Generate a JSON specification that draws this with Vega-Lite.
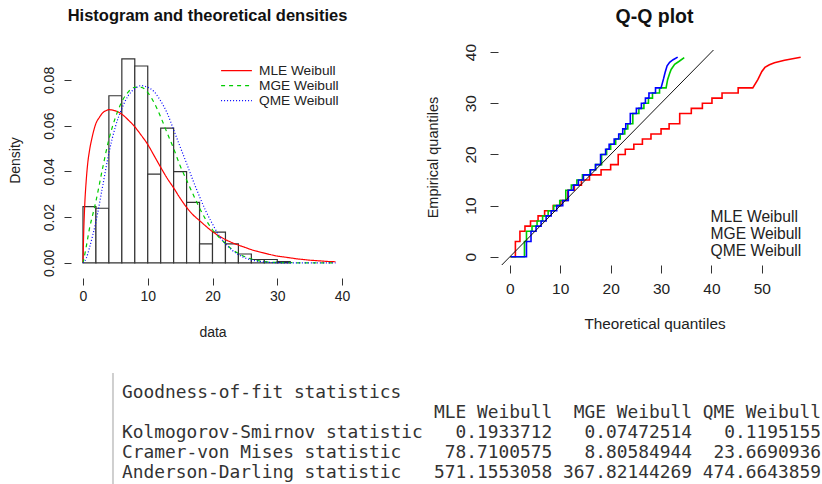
{
  "$schema": "https://vega.github.io/schema/vega-lite/v6.json",
  "background": "white",
  "padding": {"left": 8, "top": 7, "right": 0, "bottom": 0},
  "spacing": 33,
  "resolve": {"scale": {"color": "independent", "strokeDash": "independent"}, "legend": {"color": "independent", "strokeDash": "independent"}},
  "config": {
    "font": "Liberation Sans",
    "view": {"stroke": null},
    "axis": {"grid": false, "domain": false, "tickColor": "#333", "labelColor": "#222", "titleColor": "#222", "titleFontWeight": "normal", "labelFont": "Liberation Sans", "titleFont": "Liberation Sans", "labelOverlap": false, "labelFlush": false},
    "title": {"color": "#111", "fontWeight": "bold", "font": "Liberation Sans"}
  },
  "datasets": {
    "hist": [
      {"start": 0, "end": 2, "density": 0.0246},
      {"start": 2, "end": 4, "density": 0.0239},
      {"start": 4, "end": 6, "density": 0.0731},
      {"start": 6, "end": 8, "density": 0.0892},
      {"start": 8, "end": 10, "density": 0.0861},
      {"start": 10, "end": 12, "density": 0.0388},
      {"start": 12, "end": 14, "density": 0.0589},
      {"start": 14, "end": 16, "density": 0.0399},
      {"start": 16, "end": 18, "density": 0.0265},
      {"start": 18, "end": 20, "density": 0.0083},
      {"start": 20, "end": 22, "density": 0.0135},
      {"start": 22, "end": 24, "density": 0.0083},
      {"start": 24, "end": 26, "density": 0.0039},
      {"start": 26, "end": 28, "density": 0.0015},
      {"start": 28, "end": 30, "density": 0.0015},
      {"start": 30, "end": 32, "density": 0.0006}
    ],
    "dens": [
      {"fit": "MLE Weibull", "x": 0, "density": 0},
      {"fit": "MLE Weibull", "x": 0.1, "density": 0.012},
      {"fit": "MLE Weibull", "x": 0.25, "density": 0.024},
      {"fit": "MLE Weibull", "x": 0.5, "density": 0.036},
      {"fit": "MLE Weibull", "x": 0.75, "density": 0.044},
      {"fit": "MLE Weibull", "x": 1, "density": 0.049},
      {"fit": "MLE Weibull", "x": 1.5, "density": 0.056},
      {"fit": "MLE Weibull", "x": 2, "density": 0.061},
      {"fit": "MLE Weibull", "x": 2.5, "density": 0.0635},
      {"fit": "MLE Weibull", "x": 3, "density": 0.0655},
      {"fit": "MLE Weibull", "x": 3.5, "density": 0.0665},
      {"fit": "MLE Weibull", "x": 4, "density": 0.067},
      {"fit": "MLE Weibull", "x": 5, "density": 0.0665},
      {"fit": "MLE Weibull", "x": 6, "density": 0.065},
      {"fit": "MLE Weibull", "x": 7, "density": 0.0625},
      {"fit": "MLE Weibull", "x": 8, "density": 0.0595},
      {"fit": "MLE Weibull", "x": 9, "density": 0.0558},
      {"fit": "MLE Weibull", "x": 10, "density": 0.0518},
      {"fit": "MLE Weibull", "x": 11, "density": 0.0468},
      {"fit": "MLE Weibull", "x": 12, "density": 0.0418},
      {"fit": "MLE Weibull", "x": 13, "density": 0.037},
      {"fit": "MLE Weibull", "x": 14, "density": 0.0328},
      {"fit": "MLE Weibull", "x": 15, "density": 0.0283},
      {"fit": "MLE Weibull", "x": 16, "density": 0.0243},
      {"fit": "MLE Weibull", "x": 17, "density": 0.021},
      {"fit": "MLE Weibull", "x": 18, "density": 0.0185},
      {"fit": "MLE Weibull", "x": 19, "density": 0.016},
      {"fit": "MLE Weibull", "x": 20, "density": 0.0137},
      {"fit": "MLE Weibull", "x": 21, "density": 0.0118},
      {"fit": "MLE Weibull", "x": 22, "density": 0.0102},
      {"fit": "MLE Weibull", "x": 23, "density": 0.0089},
      {"fit": "MLE Weibull", "x": 24, "density": 0.0078},
      {"fit": "MLE Weibull", "x": 25, "density": 0.0068},
      {"fit": "MLE Weibull", "x": 26, "density": 0.0058},
      {"fit": "MLE Weibull", "x": 27, "density": 0.005},
      {"fit": "MLE Weibull", "x": 28, "density": 0.0043},
      {"fit": "MLE Weibull", "x": 29, "density": 0.0036},
      {"fit": "MLE Weibull", "x": 30, "density": 0.003},
      {"fit": "MLE Weibull", "x": 31, "density": 0.0026},
      {"fit": "MLE Weibull", "x": 32, "density": 0.0022},
      {"fit": "MLE Weibull", "x": 33, "density": 0.0018},
      {"fit": "MLE Weibull", "x": 34, "density": 0.0015},
      {"fit": "MLE Weibull", "x": 35, "density": 0.0012},
      {"fit": "MLE Weibull", "x": 36, "density": 0.001},
      {"fit": "MLE Weibull", "x": 37, "density": 0.0008},
      {"fit": "MLE Weibull", "x": 38, "density": 0.0006},
      {"fit": "MLE Weibull", "x": 39, "density": 0.0005},
      {"fit": "MGE Weibull", "x": 0, "density": 0},
      {"fit": "MGE Weibull", "x": 0.5, "density": 0.007},
      {"fit": "MGE Weibull", "x": 1, "density": 0.015},
      {"fit": "MGE Weibull", "x": 1.5, "density": 0.021},
      {"fit": "MGE Weibull", "x": 2, "density": 0.027},
      {"fit": "MGE Weibull", "x": 3, "density": 0.041},
      {"fit": "MGE Weibull", "x": 4, "density": 0.054},
      {"fit": "MGE Weibull", "x": 5, "density": 0.0635},
      {"fit": "MGE Weibull", "x": 6, "density": 0.0705},
      {"fit": "MGE Weibull", "x": 7, "density": 0.0748},
      {"fit": "MGE Weibull", "x": 8, "density": 0.0768},
      {"fit": "MGE Weibull", "x": 9, "density": 0.0768},
      {"fit": "MGE Weibull", "x": 10, "density": 0.0745},
      {"fit": "MGE Weibull", "x": 11, "density": 0.07},
      {"fit": "MGE Weibull", "x": 12, "density": 0.0638},
      {"fit": "MGE Weibull", "x": 13, "density": 0.0568},
      {"fit": "MGE Weibull", "x": 14, "density": 0.05},
      {"fit": "MGE Weibull", "x": 15, "density": 0.0425},
      {"fit": "MGE Weibull", "x": 16, "density": 0.0362},
      {"fit": "MGE Weibull", "x": 17, "density": 0.03},
      {"fit": "MGE Weibull", "x": 18, "density": 0.024},
      {"fit": "MGE Weibull", "x": 19, "density": 0.0188},
      {"fit": "MGE Weibull", "x": 20, "density": 0.0145},
      {"fit": "MGE Weibull", "x": 21, "density": 0.0112},
      {"fit": "MGE Weibull", "x": 22, "density": 0.0085},
      {"fit": "MGE Weibull", "x": 23, "density": 0.006},
      {"fit": "MGE Weibull", "x": 24, "density": 0.0041},
      {"fit": "MGE Weibull", "x": 25, "density": 0.0027},
      {"fit": "MGE Weibull", "x": 26, "density": 0.0017},
      {"fit": "MGE Weibull", "x": 27, "density": 0.001},
      {"fit": "MGE Weibull", "x": 28, "density": 0.0006},
      {"fit": "MGE Weibull", "x": 29, "density": 0.0003},
      {"fit": "MGE Weibull", "x": 30, "density": 0.0002},
      {"fit": "MGE Weibull", "x": 32, "density": 0.0001},
      {"fit": "MGE Weibull", "x": 35, "density": 0},
      {"fit": "MGE Weibull", "x": 39, "density": 0},
      {"fit": "QME Weibull", "x": 0, "density": 0},
      {"fit": "QME Weibull", "x": 0.5, "density": 0.002},
      {"fit": "QME Weibull", "x": 1, "density": 0.0066},
      {"fit": "QME Weibull", "x": 1.5, "density": 0.012},
      {"fit": "QME Weibull", "x": 2, "density": 0.018},
      {"fit": "QME Weibull", "x": 3, "density": 0.033},
      {"fit": "QME Weibull", "x": 4, "density": 0.048},
      {"fit": "QME Weibull", "x": 5, "density": 0.0595},
      {"fit": "QME Weibull", "x": 6, "density": 0.0675},
      {"fit": "QME Weibull", "x": 7, "density": 0.0732},
      {"fit": "QME Weibull", "x": 8, "density": 0.0762},
      {"fit": "QME Weibull", "x": 9, "density": 0.0775},
      {"fit": "QME Weibull", "x": 10, "density": 0.0768},
      {"fit": "QME Weibull", "x": 11, "density": 0.0748},
      {"fit": "QME Weibull", "x": 12, "density": 0.0708},
      {"fit": "QME Weibull", "x": 13, "density": 0.0655},
      {"fit": "QME Weibull", "x": 14, "density": 0.0582},
      {"fit": "QME Weibull", "x": 15, "density": 0.0508},
      {"fit": "QME Weibull", "x": 16, "density": 0.0435},
      {"fit": "QME Weibull", "x": 17, "density": 0.036},
      {"fit": "QME Weibull", "x": 18, "density": 0.029},
      {"fit": "QME Weibull", "x": 19, "density": 0.0225},
      {"fit": "QME Weibull", "x": 20, "density": 0.017},
      {"fit": "QME Weibull", "x": 21, "density": 0.012},
      {"fit": "QME Weibull", "x": 22, "density": 0.0083},
      {"fit": "QME Weibull", "x": 23, "density": 0.0056},
      {"fit": "QME Weibull", "x": 24, "density": 0.0036},
      {"fit": "QME Weibull", "x": 25, "density": 0.0022},
      {"fit": "QME Weibull", "x": 26, "density": 0.0013},
      {"fit": "QME Weibull", "x": 27, "density": 0.0007},
      {"fit": "QME Weibull", "x": 28, "density": 0.0004},
      {"fit": "QME Weibull", "x": 29, "density": 0.0002},
      {"fit": "QME Weibull", "x": 30, "density": 0.0001},
      {"fit": "QME Weibull", "x": 32, "density": 0},
      {"fit": "QME Weibull", "x": 35, "density": 0},
      {"fit": "QME Weibull", "x": 39, "density": 0}
    ],
    "qq": [
      {"fit": "MLE Weibull", "x": 0.05, "y": 0}, {"fit": "MLE Weibull", "x": 1.1, "y": 0},
      {"fit": "MLE Weibull", "x": 1.1, "y": 3}, {"fit": "MLE Weibull", "x": 2.0, "y": 3},
      {"fit": "MLE Weibull", "x": 2.0, "y": 5}, {"fit": "MLE Weibull", "x": 3.0, "y": 5},
      {"fit": "MLE Weibull", "x": 3.0, "y": 6}, {"fit": "MLE Weibull", "x": 4.1, "y": 6},
      {"fit": "MLE Weibull", "x": 4.1, "y": 7}, {"fit": "MLE Weibull", "x": 5.6, "y": 7},
      {"fit": "MLE Weibull", "x": 5.6, "y": 8}, {"fit": "MLE Weibull", "x": 6.9, "y": 8},
      {"fit": "MLE Weibull", "x": 6.9, "y": 9}, {"fit": "MLE Weibull", "x": 8.6, "y": 9},
      {"fit": "MLE Weibull", "x": 8.6, "y": 10}, {"fit": "MLE Weibull", "x": 10.1, "y": 10},
      {"fit": "MLE Weibull", "x": 10.1, "y": 11}, {"fit": "MLE Weibull", "x": 11.5, "y": 11},
      {"fit": "MLE Weibull", "x": 11.5, "y": 13}, {"fit": "MLE Weibull", "x": 12.8, "y": 13},
      {"fit": "MLE Weibull", "x": 12.8, "y": 14}, {"fit": "MLE Weibull", "x": 14.2, "y": 14},
      {"fit": "MLE Weibull", "x": 14.2, "y": 15}, {"fit": "MLE Weibull", "x": 15.8, "y": 15},
      {"fit": "MLE Weibull", "x": 15.8, "y": 16}, {"fit": "MLE Weibull", "x": 18.1, "y": 16},
      {"fit": "MLE Weibull", "x": 18.1, "y": 17}, {"fit": "MLE Weibull", "x": 20.0, "y": 17},
      {"fit": "MLE Weibull", "x": 20.0, "y": 18}, {"fit": "MLE Weibull", "x": 21.5, "y": 18},
      {"fit": "MLE Weibull", "x": 21.5, "y": 20}, {"fit": "MLE Weibull", "x": 22.9, "y": 20},
      {"fit": "MLE Weibull", "x": 22.9, "y": 21}, {"fit": "MLE Weibull", "x": 24.6, "y": 21},
      {"fit": "MLE Weibull", "x": 24.6, "y": 22}, {"fit": "MLE Weibull", "x": 26.3, "y": 22},
      {"fit": "MLE Weibull", "x": 26.3, "y": 23}, {"fit": "MLE Weibull", "x": 28.0, "y": 23},
      {"fit": "MLE Weibull", "x": 28.0, "y": 24}, {"fit": "MLE Weibull", "x": 30.0, "y": 24},
      {"fit": "MLE Weibull", "x": 30.0, "y": 25}, {"fit": "MLE Weibull", "x": 31.6, "y": 25},
      {"fit": "MLE Weibull", "x": 31.6, "y": 26}, {"fit": "MLE Weibull", "x": 33.7, "y": 26},
      {"fit": "MLE Weibull", "x": 33.7, "y": 28}, {"fit": "MLE Weibull", "x": 36.0, "y": 28},
      {"fit": "MLE Weibull", "x": 36.0, "y": 29}, {"fit": "MLE Weibull", "x": 38.2, "y": 29},
      {"fit": "MLE Weibull", "x": 38.2, "y": 30}, {"fit": "MLE Weibull", "x": 40.1, "y": 30},
      {"fit": "MLE Weibull", "x": 40.1, "y": 31}, {"fit": "MLE Weibull", "x": 42.1, "y": 31},
      {"fit": "MLE Weibull", "x": 42.1, "y": 32}, {"fit": "MLE Weibull", "x": 45.3, "y": 32},
      {"fit": "MLE Weibull", "x": 45.3, "y": 33}, {"fit": "MLE Weibull", "x": 48.2, "y": 33},
      {"fit": "MLE Weibull", "x": 49.2, "y": 34.6}, {"fit": "MLE Weibull", "x": 50.0, "y": 36.2},
      {"fit": "MLE Weibull", "x": 50.6, "y": 37.0}, {"fit": "MLE Weibull", "x": 51.5, "y": 37.5},
      {"fit": "MLE Weibull", "x": 52.5, "y": 37.9}, {"fit": "MLE Weibull", "x": 54.5, "y": 38.4},
      {"fit": "MLE Weibull", "x": 57.7, "y": 39.0},
      {"fit": "MGE Weibull", "x": 0.1, "y": 0}, {"fit": "MGE Weibull", "x": 2.9, "y": 0},
      {"fit": "MGE Weibull", "x": 2.9, "y": 3}, {"fit": "MGE Weibull", "x": 3.3, "y": 3},
      {"fit": "MGE Weibull", "x": 3.3, "y": 5}, {"fit": "MGE Weibull", "x": 4.4, "y": 5},
      {"fit": "MGE Weibull", "x": 4.4, "y": 6}, {"fit": "MGE Weibull", "x": 5.4, "y": 6},
      {"fit": "MGE Weibull", "x": 5.4, "y": 7}, {"fit": "MGE Weibull", "x": 6.5, "y": 7},
      {"fit": "MGE Weibull", "x": 6.5, "y": 8}, {"fit": "MGE Weibull", "x": 7.6, "y": 8},
      {"fit": "MGE Weibull", "x": 7.6, "y": 9}, {"fit": "MGE Weibull", "x": 8.7, "y": 9},
      {"fit": "MGE Weibull", "x": 8.7, "y": 10}, {"fit": "MGE Weibull", "x": 9.9, "y": 10},
      {"fit": "MGE Weibull", "x": 9.9, "y": 11}, {"fit": "MGE Weibull", "x": 11.1, "y": 11},
      {"fit": "MGE Weibull", "x": 11.1, "y": 13}, {"fit": "MGE Weibull", "x": 12.2, "y": 13},
      {"fit": "MGE Weibull", "x": 12.2, "y": 14}, {"fit": "MGE Weibull", "x": 13.3, "y": 14},
      {"fit": "MGE Weibull", "x": 13.3, "y": 15}, {"fit": "MGE Weibull", "x": 14.4, "y": 15},
      {"fit": "MGE Weibull", "x": 14.4, "y": 16}, {"fit": "MGE Weibull", "x": 15.9, "y": 16},
      {"fit": "MGE Weibull", "x": 15.9, "y": 17}, {"fit": "MGE Weibull", "x": 17.0, "y": 17},
      {"fit": "MGE Weibull", "x": 17.0, "y": 18}, {"fit": "MGE Weibull", "x": 18.2, "y": 18},
      {"fit": "MGE Weibull", "x": 18.2, "y": 20}, {"fit": "MGE Weibull", "x": 19.2, "y": 20},
      {"fit": "MGE Weibull", "x": 19.2, "y": 21}, {"fit": "MGE Weibull", "x": 20.0, "y": 21},
      {"fit": "MGE Weibull", "x": 20.0, "y": 22}, {"fit": "MGE Weibull", "x": 21.0, "y": 22},
      {"fit": "MGE Weibull", "x": 21.0, "y": 23}, {"fit": "MGE Weibull", "x": 21.9, "y": 23},
      {"fit": "MGE Weibull", "x": 21.9, "y": 24}, {"fit": "MGE Weibull", "x": 22.8, "y": 24},
      {"fit": "MGE Weibull", "x": 22.8, "y": 25}, {"fit": "MGE Weibull", "x": 23.4, "y": 25},
      {"fit": "MGE Weibull", "x": 23.4, "y": 26}, {"fit": "MGE Weibull", "x": 24.4, "y": 26},
      {"fit": "MGE Weibull", "x": 24.4, "y": 28}, {"fit": "MGE Weibull", "x": 25.6, "y": 28},
      {"fit": "MGE Weibull", "x": 25.6, "y": 29}, {"fit": "MGE Weibull", "x": 26.6, "y": 29},
      {"fit": "MGE Weibull", "x": 26.6, "y": 30}, {"fit": "MGE Weibull", "x": 27.5, "y": 30},
      {"fit": "MGE Weibull", "x": 27.5, "y": 31}, {"fit": "MGE Weibull", "x": 28.3, "y": 31},
      {"fit": "MGE Weibull", "x": 28.3, "y": 32}, {"fit": "MGE Weibull", "x": 29.7, "y": 32},
      {"fit": "MGE Weibull", "x": 29.7, "y": 33}, {"fit": "MGE Weibull", "x": 31.0, "y": 33},
      {"fit": "MGE Weibull", "x": 31.3, "y": 34.6}, {"fit": "MGE Weibull", "x": 31.7, "y": 35.8},
      {"fit": "MGE Weibull", "x": 32.0, "y": 36.6}, {"fit": "MGE Weibull", "x": 32.7, "y": 37.6},
      {"fit": "MGE Weibull", "x": 33.6, "y": 38.2}, {"fit": "MGE Weibull", "x": 34.6, "y": 38.9},
      {"fit": "QME Weibull", "x": 0.2, "y": 0}, {"fit": "QME Weibull", "x": 3.3, "y": 0},
      {"fit": "QME Weibull", "x": 3.3, "y": 3}, {"fit": "QME Weibull", "x": 4.2, "y": 3},
      {"fit": "QME Weibull", "x": 4.2, "y": 5}, {"fit": "QME Weibull", "x": 5.2, "y": 5},
      {"fit": "QME Weibull", "x": 5.2, "y": 6}, {"fit": "QME Weibull", "x": 6.2, "y": 6},
      {"fit": "QME Weibull", "x": 6.2, "y": 7}, {"fit": "QME Weibull", "x": 7.2, "y": 7},
      {"fit": "QME Weibull", "x": 7.2, "y": 8}, {"fit": "QME Weibull", "x": 8.2, "y": 8},
      {"fit": "QME Weibull", "x": 8.2, "y": 9}, {"fit": "QME Weibull", "x": 9.3, "y": 9},
      {"fit": "QME Weibull", "x": 9.3, "y": 10}, {"fit": "QME Weibull", "x": 10.5, "y": 10},
      {"fit": "QME Weibull", "x": 10.5, "y": 11}, {"fit": "QME Weibull", "x": 11.6, "y": 11},
      {"fit": "QME Weibull", "x": 11.6, "y": 13}, {"fit": "QME Weibull", "x": 12.6, "y": 13},
      {"fit": "QME Weibull", "x": 12.6, "y": 14}, {"fit": "QME Weibull", "x": 13.6, "y": 14},
      {"fit": "QME Weibull", "x": 13.6, "y": 15}, {"fit": "QME Weibull", "x": 14.6, "y": 15},
      {"fit": "QME Weibull", "x": 14.6, "y": 16}, {"fit": "QME Weibull", "x": 16.0, "y": 16},
      {"fit": "QME Weibull", "x": 16.0, "y": 17}, {"fit": "QME Weibull", "x": 17.0, "y": 17},
      {"fit": "QME Weibull", "x": 17.0, "y": 18}, {"fit": "QME Weibull", "x": 18.0, "y": 18},
      {"fit": "QME Weibull", "x": 18.0, "y": 20}, {"fit": "QME Weibull", "x": 19.0, "y": 20},
      {"fit": "QME Weibull", "x": 19.0, "y": 21}, {"fit": "QME Weibull", "x": 19.7, "y": 21},
      {"fit": "QME Weibull", "x": 19.7, "y": 22}, {"fit": "QME Weibull", "x": 20.7, "y": 22},
      {"fit": "QME Weibull", "x": 20.7, "y": 23}, {"fit": "QME Weibull", "x": 21.6, "y": 23},
      {"fit": "QME Weibull", "x": 21.6, "y": 24}, {"fit": "QME Weibull", "x": 22.4, "y": 24},
      {"fit": "QME Weibull", "x": 22.4, "y": 25}, {"fit": "QME Weibull", "x": 23.0, "y": 25},
      {"fit": "QME Weibull", "x": 23.0, "y": 26}, {"fit": "QME Weibull", "x": 23.9, "y": 26},
      {"fit": "QME Weibull", "x": 23.9, "y": 28}, {"fit": "QME Weibull", "x": 25.1, "y": 28},
      {"fit": "QME Weibull", "x": 25.1, "y": 29}, {"fit": "QME Weibull", "x": 26.1, "y": 29},
      {"fit": "QME Weibull", "x": 26.1, "y": 30}, {"fit": "QME Weibull", "x": 26.9, "y": 30},
      {"fit": "QME Weibull", "x": 26.9, "y": 31}, {"fit": "QME Weibull", "x": 27.6, "y": 31},
      {"fit": "QME Weibull", "x": 27.6, "y": 32}, {"fit": "QME Weibull", "x": 28.9, "y": 32},
      {"fit": "QME Weibull", "x": 28.9, "y": 33}, {"fit": "QME Weibull", "x": 30.0, "y": 33},
      {"fit": "QME Weibull", "x": 30.5, "y": 34.8}, {"fit": "QME Weibull", "x": 30.8, "y": 36.0},
      {"fit": "QME Weibull", "x": 31.2, "y": 37.3}, {"fit": "QME Weibull", "x": 31.7, "y": 38.0},
      {"fit": "QME Weibull", "x": 32.4, "y": 38.5}, {"fit": "QME Weibull", "x": 33.3, "y": 39.0}
    ],
    "identity": [
      {"x": -1.6, "y": -1.6},
      {"x": 40.4, "y": 40.4}
    ],
    "gof": [
      {"row": "Kolmogorov-Smirnov statistic", "fit": "MLE Weibull", "value": "0.1933712"},
      {"row": "Kolmogorov-Smirnov statistic", "fit": "MGE Weibull", "value": "0.07472514"},
      {"row": "Kolmogorov-Smirnov statistic", "fit": "QME Weibull", "value": "0.1195155"},
      {"row": "Cramer-von Mises statistic", "fit": "MLE Weibull", "value": "78.7100575"},
      {"row": "Cramer-von Mises statistic", "fit": "MGE Weibull", "value": "8.80584944"},
      {"row": "Cramer-von Mises statistic", "fit": "QME Weibull", "value": "23.6690936"},
      {"row": "Anderson-Darling statistic", "fit": "MLE Weibull", "value": "571.1553058"},
      {"row": "Anderson-Darling statistic", "fit": "MGE Weibull", "value": "367.82144269"},
      {"row": "Anderson-Darling statistic", "fit": "QME Weibull", "value": "474.6643859"}
    ]
  },
  "vconcat": [
    {
      "bounds": "flush",
      "spacing": 144,
      "resolve": {"scale": {"color": "independent", "strokeDash": "independent"}, "legend": {"color": "independent", "strokeDash": "independent"}},
      "hconcat": [
        {
          "width": 283,
          "height": 228,
          "title": {"text": "Histogram and theoretical densities", "fontSize": 16.5, "frame": "group", "anchor": "middle", "baseline": "alphabetic", "offset": 12.1, "dx": -5},
          "layer": [
            {
              "data": {"name": "hist"},
              "mark": {"type": "rect", "fill": "white", "stroke": "#333", "strokeWidth": 1.2},
              "encoding": {
                "x": {"field": "start", "type": "quantitative", "scale": {"domain": [-1.85, 41.85], "nice": false, "zero": false},
                  "axis": {"title": "data", "values": [0, 10, 20, 30, 40], "tickSize": 7, "labelPadding": 15, "labelBaseline": "alphabetic", "labelFontSize": 14, "titleFontSize": 14, "titleY": 58, "titleBaseline": "alphabetic"}},
                "x2": {"field": "end"},
                "y": {"field": "density", "type": "quantitative", "scale": {"domain": [-0.0066, 0.0931], "nice": false, "zero": false},
                  "axis": {"title": "Density", "values": [0, 0.02, 0.04, 0.06, 0.08], "format": ".2f", "tickSize": 7, "labelAngle": 270, "labelAlign": "center", "labelBaseline": "alphabetic", "labelPadding": 10.5, "labelFontSize": 14, "titleFontSize": 14, "titleAngle": 270, "titleBaseline": "alphabetic", "titleAlign": "center", "titleX": -51.7, "titleY": 110}},
                "y2": {"datum": 0}
              }
            },
            {
              "mark": {"type": "rule", "color": "#333", "strokeWidth": 1},
              "encoding": {"x": {"datum": 0}, "x2": {"datum": 40}, "y": {"datum": -0.0066}}
            },
            {
              "mark": {"type": "rule", "color": "#333", "strokeWidth": 1},
              "encoding": {"y": {"datum": 0}, "y2": {"datum": 0.08}, "x": {"datum": -1.85}}
            },
            {
              "data": {"name": "dens"},
              "mark": {"type": "line", "strokeWidth": 1.2, "interpolate": "monotone"},
              "encoding": {
                "x": {"field": "x", "type": "quantitative"},
                "y": {"field": "density", "type": "quantitative"},
                "color": {"field": "fit", "type": "nominal", "scale": {"domain": ["MLE Weibull", "MGE Weibull", "QME Weibull"], "range": ["#ff0000", "#00cc00", "#0000ff"]},
                  "legend": {"orient": "none", "legendX": 149, "legendY": 13.1, "title": null, "symbolType": "stroke", "symbolSize": 950, "symbolStrokeWidth": 1.2, "labelFontSize": 13.7, "labelColor": "#222", "labelOffset": 6, "rowPadding": 0, "clipHeight": 15, "padding": 0}},
                "strokeDash": {"field": "fit", "type": "nominal", "scale": {"domain": ["MLE Weibull", "MGE Weibull", "QME Weibull"], "range": [[1, 0], [4, 4], [1, 2]]},
                  "legend": {"orient": "none", "legendX": 149, "legendY": 13.1, "title": null, "symbolType": "stroke", "symbolSize": 950, "symbolStrokeWidth": 1.2, "labelFontSize": 13.7, "labelColor": "#222", "labelOffset": 6, "rowPadding": 0, "clipHeight": 15, "padding": 0}}
              }
            }
          ]
        },
        {
          "width": 313,
          "height": 215,
          "title": {"text": "Q-Q plot", "fontSize": 19.5, "frame": "group", "anchor": "middle", "baseline": "alphabetic", "offset": 0.5},
          "layer": [
            {
              "data": {"name": "qq"},
              "mark": {"type": "line", "strokeWidth": 1.6},
              "encoding": {
                "x": {"field": "x", "type": "quantitative", "scale": {"domain": [-2.35, 59.75], "nice": false, "zero": false},
                  "axis": {"title": "Theoretical quantiles", "values": [0, 10, 20, 30, 40, 50], "tickSize": 8, "labelPadding": 20.6, "labelBaseline": "alphabetic", "labelFontSize": 15.5, "titleFontSize": 15.3, "titleY": 63, "titleBaseline": "alphabetic"}},
                "y": {"field": "y", "type": "quantitative", "scale": {"domain": [-1.6, 40.4], "nice": false, "zero": false},
                  "axis": {"title": "Empirical quantiles", "values": [0, 10, 20, 30, 40], "tickSize": 8, "labelAngle": 270, "labelAlign": "center", "labelBaseline": "alphabetic", "labelPadding": 14.5, "labelFontSize": 15.5, "titleFontSize": 14.5, "titleAngle": 270, "titleBaseline": "alphabetic", "titleAlign": "center", "titleX": -60.8, "titleY": 107}},
                "order": [{"field": "y", "type": "quantitative"}, {"field": "x", "type": "quantitative"}],
                "color": {"field": "fit", "type": "nominal", "scale": {"domain": ["MLE Weibull", "MGE Weibull", "QME Weibull"], "range": ["#ff0000", "#00cc00", "#0000ff"]},
                  "legend": {"orient": "none", "legendX": 197, "legendY": 158.6, "title": null, "symbolType": "stroke", "symbolSize": 4, "symbolOpacity": 0, "symbolStrokeWidth": 0, "labelFontSize": 15.6, "labelColor": "#222", "labelOffset": 0, "rowPadding": 0, "clipHeight": 16.7, "padding": 0}}
              }
            },
            {
              "data": {"name": "identity"},
              "mark": {"type": "line", "color": "#111", "strokeWidth": 1},
              "encoding": {"x": {"field": "x", "type": "quantitative"}, "y": {"field": "y", "type": "quantitative"}}
            },
            {
              "mark": {"type": "rect", "fill": null, "fillOpacity": 0, "stroke": "#222", "strokeWidth": 1.2},
              "encoding": {"x": {"datum": -2.35}, "x2": {"datum": 59.75}, "y": {"datum": -1.6}, "y2": {"datum": 40.4}}
            }
          ]
        }
      ]
    },
    {
      "width": 752,
      "height": 112,
      "data": {"name": "gof"},
      "layer": [
        {
          "transform": [{"filter": {"and": [{"field": "row", "equal": "Kolmogorov-Smirnov statistic"}, {"field": "fit", "equal": "MLE Weibull"}]}}],
          "mark": {"type": "rule", "color": "#cfcfcf", "strokeWidth": 2},
          "encoding": {"x": {"datum": -0.84, "type": "quantitative", "scale": {"domain": [-4.742, 65.185], "nice": false, "zero": false}, "axis": null}}
        },
        {
          "transform": [{"filter": {"and": [{"field": "row", "equal": "Kolmogorov-Smirnov statistic"}, {"field": "fit", "equal": "MLE Weibull"}]}}],
          "mark": {"type": "text", "align": "left", "baseline": "middle", "font": "DejaVu Sans Mono", "fontSize": 17.85, "color": "#333"},
          "encoding": {
            "x": {"datum": 0, "type": "quantitative"},
            "y": {"datum": "Goodness-of-fit statistics", "type": "nominal", "scale": {"type": "point", "padding": 0, "domain": ["Goodness-of-fit statistics", "header", "Kolmogorov-Smirnov statistic", "Cramer-von Mises statistic", "Anderson-Darling statistic"], "range": [20, 100]}, "axis": null},
            "text": {"value": "Goodness-of-fit statistics"}
          }
        },
        {
          "transform": [{"filter": {"field": "fit", "equal": "MLE Weibull"}}],
          "mark": {"type": "text", "align": "left", "baseline": "middle", "font": "DejaVu Sans Mono", "fontSize": 17.85, "color": "#333"},
          "encoding": {"x": {"datum": 0, "type": "quantitative"}, "y": {"field": "row", "type": "nominal"}, "text": {"field": "row"}}
        },
        {
          "transform": [{"filter": {"field": "fit", "equal": "MLE Weibull"}}],
          "mark": {"type": "text", "align": "right", "baseline": "middle", "font": "DejaVu Sans Mono", "fontSize": 17.85, "color": "#333"},
          "encoding": {"x": {"datum": 40, "type": "quantitative"}, "y": {"field": "row", "type": "nominal"}, "text": {"field": "value"}}
        },
        {
          "transform": [{"filter": {"field": "fit", "equal": "MGE Weibull"}}],
          "mark": {"type": "text", "align": "right", "baseline": "middle", "font": "DejaVu Sans Mono", "fontSize": 17.85, "color": "#333"},
          "encoding": {"x": {"datum": 53, "type": "quantitative"}, "y": {"field": "row", "type": "nominal"}, "text": {"field": "value"}}
        },
        {
          "transform": [{"filter": {"field": "fit", "equal": "QME Weibull"}}],
          "mark": {"type": "text", "align": "right", "baseline": "middle", "font": "DejaVu Sans Mono", "fontSize": 17.85, "color": "#333"},
          "encoding": {"x": {"datum": 65, "type": "quantitative"}, "y": {"field": "row", "type": "nominal"}, "text": {"field": "value"}}
        },
        {
          "transform": [{"filter": {"and": [{"field": "row", "equal": "Kolmogorov-Smirnov statistic"}, {"field": "fit", "equal": "MLE Weibull"}]}}],
          "mark": {"type": "text", "align": "right", "baseline": "middle", "font": "DejaVu Sans Mono", "fontSize": 17.85, "color": "#333"},
          "encoding": {"x": {"datum": 40, "type": "quantitative"}, "y": {"datum": "header", "type": "nominal"}, "text": {"field": "fit"}}
        },
        {
          "transform": [{"filter": {"and": [{"field": "row", "equal": "Kolmogorov-Smirnov statistic"}, {"field": "fit", "equal": "MGE Weibull"}]}}],
          "mark": {"type": "text", "align": "right", "baseline": "middle", "font": "DejaVu Sans Mono", "fontSize": 17.85, "color": "#333"},
          "encoding": {"x": {"datum": 53, "type": "quantitative"}, "y": {"datum": "header", "type": "nominal"}, "text": {"field": "fit"}}
        },
        {
          "transform": [{"filter": {"and": [{"field": "row", "equal": "Kolmogorov-Smirnov statistic"}, {"field": "fit", "equal": "QME Weibull"}]}}],
          "mark": {"type": "text", "align": "right", "baseline": "middle", "font": "DejaVu Sans Mono", "fontSize": 17.85, "color": "#333"},
          "encoding": {"x": {"datum": 65, "type": "quantitative"}, "y": {"datum": "header", "type": "nominal"}, "text": {"field": "fit"}}
        }
      ]
    }
  ]
}
